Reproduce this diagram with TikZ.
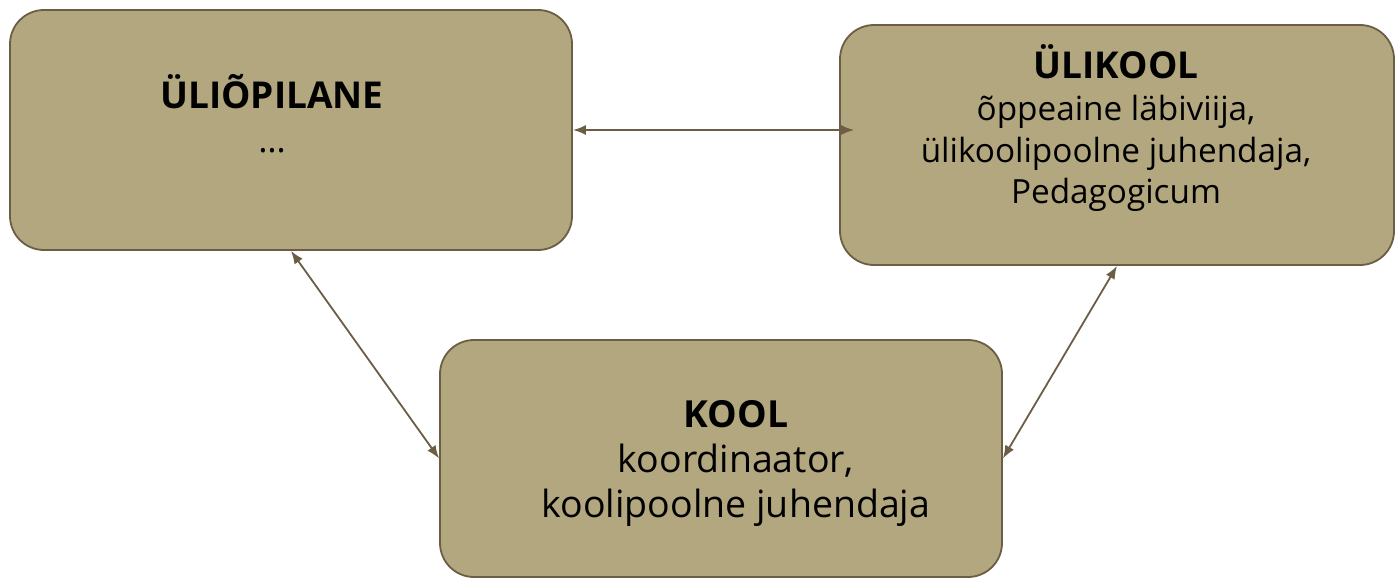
\documentclass[tikz,border=0pt]{standalone}
\usepackage{fontspec}
\setmainfont{Open Sans}
\usetikzlibrary{arrows.meta,positioning}
\definecolor{boxfill}{HTML}{B2A77E}
\definecolor{boxline}{HTML}{6B5E45}

\begin{document}
\begin{tikzpicture}[x=1pt,y=-1pt,
	box/.style={draw=boxline,fill=boxfill,line width=1.8pt,rounded corners=34pt,inner sep=0pt},
	title/.style={font=\fontsize{#1}{#1}\selectfont\bfseries,anchor=base,inner sep=0pt},
	body/.style={font=\fontsize{#1}{#1}\selectfont,anchor=base,inner sep=0pt},
	link/.style={draw=boxline,line width=1.8pt,{Latex[length=13pt,width=10pt]}-{Latex[length=13pt,width=10pt]}}]
		
		\useasboundingbox (0,0) rectangle (1395,578);
		
		\node[box,minimum width=562pt,minimum height=240pt] (stud) at (291,130) {};
		\node[title=37] (studt) at (272,108) {ÜLIÕPILANE};
		\node[body=35] (studb) at (272,152) {…};
		
		\node[box,minimum width=554pt,minimum height=240pt] (uli) at (1117,145) {};
		\node[title=37] (ulit) at (1116,78) {ÜLIKOOL};
		\node[body=33.3] (ulib1) at (1116,120) {õppeaine läbiviija,};
		\node[body=33.3] (ulib2) at (1116,162) {ülikoolipoolne juhendaja,};
		\node[body=33.3] (ulib3) at (1116,203) {Pedagogicum};
		
		\node[box,minimum width=562pt,minimum height=237pt] (kool) at (721,458.5) {};
		\node[title=37.3] (koolt) at (736,427) {KOOL};
		\node[body=37.5] (koolb1) at (736,472) {koordinaator,};
		\node[body=37.5] (koolb2) at (736,517) {koolipoolne juhendaja};
		
		\coordinate (uliin) at ([xshift=15pt]uli.west |- stud.east);
		\draw[link] (stud.east) -- (uliin);
		\draw[link] (stud.south) -- (kool.west);
		\draw[link] (uli.south) -- (kool.east);
		
\end{tikzpicture}
\end{document}
